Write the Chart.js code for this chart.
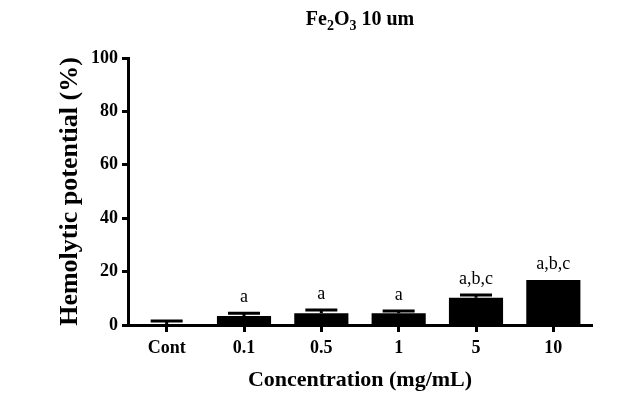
<!DOCTYPE html>
<html>
<head>
<meta charset="utf-8">
<script src="https://cdn.jsdelivr.net/npm/chart.js@4.4.0/dist/chart.umd.min.js"></script>
<style>
  body { margin: 0; background: #fff; }
  #wrap { width: 641px; height: 420px; }
</style>
</head>
<body>
<div id="wrap"><canvas id="hemoChart"></canvas></div>
<script>
const categories = ['Cont', '0.1', '0.5', '1', '5', '10'];
const means = [0.3, 3.4, 4.4, 4.4, 10.2, 16.9];
const errors = [1.2, 1.0, 1.2, 0.8, 1.0, 0];
const sigLabels = ['', 'a', 'a', 'a', 'a,b,c', 'a,b,c'];
const yTicks = [0, 20, 40, 60, 80, 100];

const serif = '"Liberation Serif", "Times New Roman", serif';

// error bars + significance letters
const errorBars = {
    id: 'errorBars',
    afterDatasetsDraw(chart) {
        const ctx = chart.ctx;
        const yScale = chart.scales.y;
        const meta = chart.getDatasetMeta(0);
        ctx.save();
        ctx.strokeStyle = '#000';
        ctx.lineWidth = 3;
        meta.data.forEach((bar, i) => {
            const yTop = yScale.getPixelForValue(means[i] + errors[i]);
            const yBase = yScale.getPixelForValue(means[i]);
            if (errors[i] > 0) {
                ctx.beginPath();
                ctx.moveTo(bar.x, yBase);
                ctx.lineTo(bar.x, yTop);
                ctx.moveTo(bar.x - 16, yTop);
                ctx.lineTo(bar.x + 16, yTop);
                ctx.stroke();
            }
            if (sigLabels[i]) {
                ctx.fillStyle = '#000';
                ctx.font = '18px ' + serif;
                ctx.textAlign = 'center';
                ctx.textBaseline = 'middle';
                ctx.fillText(sigLabels[i], bar.x, yTop - 16);
            }
        });
        ctx.restore();
    }
};

// titles drawn by hand (subscripts in the main title)
const titles = {
    id: 'titles',
    afterDraw(chart) {
        const ctx = chart.ctx;
        const area = chart.chartArea;
        const cx = (area.left + area.right) / 2;
        ctx.save();
        ctx.fillStyle = '#000';
        ctx.textBaseline = 'alphabetic';
        ctx.textAlign = 'left';

        const big = 'bold 20px ' + serif;
        const small = 'bold 14px ' + serif;
        const parts = [['Fe', big, 0], ['2', small, 5], ['O', big, 0], ['3', small, 5], [' 10 um', big, 0]];
        let total = 0;
        parts.forEach(p => { ctx.font = p[1]; total += ctx.measureText(p[0]).width; });
        let x = cx - total / 2;
        parts.forEach(p => {
            ctx.font = p[1];
            ctx.fillText(p[0], x, 25 + p[2]);
            x += ctx.measureText(p[0]).width;
        });

        ctx.textAlign = 'center';
        ctx.textBaseline = 'middle';
        ctx.font = 'bold 22px ' + serif;
        ctx.fillText('Concentration (mg/mL)', cx, 380);

        ctx.translate(70, (area.top + area.bottom) / 2);
        ctx.rotate(-Math.PI / 2);
        ctx.font = 'bold 26px ' + serif;
        ctx.fillText('Hemolytic potential (%)', 0, 0);
        ctx.restore();
    }
};

new Chart(document.getElementById('hemoChart'), {
    type: 'bar',
    data: {
        labels: categories,
        datasets: [{
            data: means,
            backgroundColor: '#000',
            borderWidth: 0,
            barPercentage: 0.7,
            categoryPercentage: 1.0
        }]
    },
    options: {
        responsive: true,
        maintainAspectRatio: false,
        animation: false,
        layout: { padding: { top: 58, right: 49, left: 0, bottom: 0 } },
        plugins: {
            legend: { display: false },
            tooltip: { enabled: false }
        },
        scales: {
            x: {
                offset: true,
                border: { display: true, color: '#000', width: 3 },
                grid: { drawOnChartArea: false, drawTicks: true, tickLength: 7, tickWidth: 3, tickColor: '#000', offset: false },
                ticks: { color: '#000', font: { family: serif, size: 18, weight: 'bold' }, padding: 6, maxRotation: 0 },
                afterFit(scale) { scale.height = 95; }
            },
            y: {
                min: 0,
                max: 100,
                afterBuildTicks(scale) { scale.ticks = yTicks.map(v => ({ value: v })); },
                border: { display: true, color: '#000', width: 3 },
                grid: { drawOnChartArea: false, drawTicks: true, tickLength: 6, tickWidth: 3, tickColor: '#000' },
                ticks: { color: '#000', font: { family: serif, size: 18, weight: 'bold' }, padding: 4 },
                afterFit(scale) { scale.width = 128; }
            }
        }
    },
    plugins: [errorBars, titles]
});
</script>
</body>
</html>
